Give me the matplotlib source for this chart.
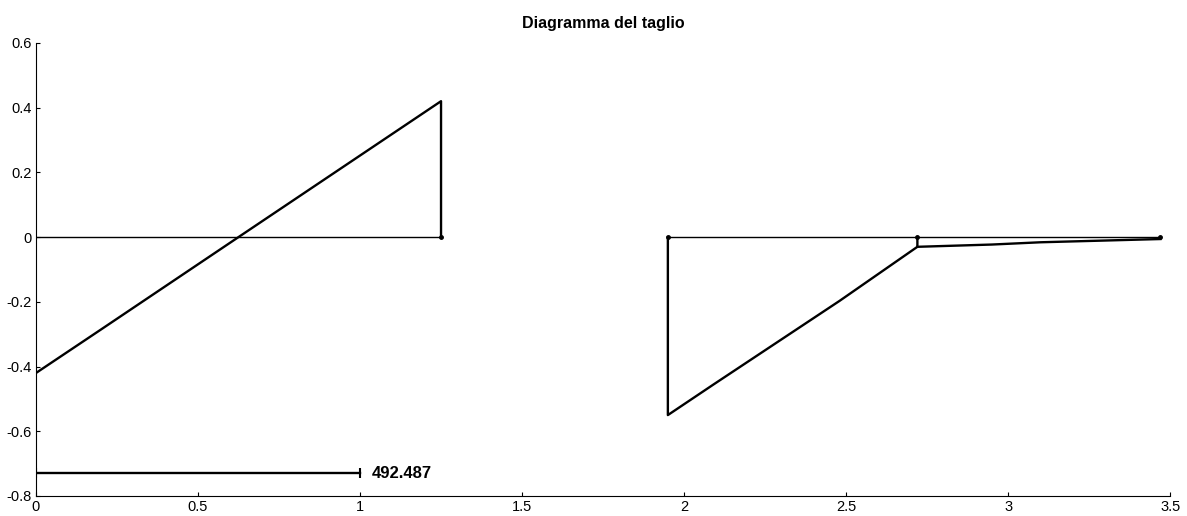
import matplotlib.pyplot as plt

plt.rcParams['font.family'] = ['Liberation Sans', 'DejaVu Sans']

# shear diagram, span 1
span1_x = [0.0, 0.2, 0.625, 1.25]
span1_v = [-0.42, -0.286, 0.0, 0.42]
span1_end = 1.25

# shear diagram, span 2
span2_x = [1.95, 2.09, 2.48, 2.72]
span2_v = [-0.55, -0.456, -0.197, -0.03]

# shear diagram, cantilever tail
span3_x = [2.72, 2.95, 3.1, 3.47]
span3_v = [-0.03, -0.023, -0.016, -0.006]

# scale bar
scale_len = 1.0
scale_y = -0.73
scale_label = '492.487'

xticks = [0, 0.5, 1, 1.5, 2, 2.5, 3, 3.5]
yticks = [-0.8, -0.6, -0.4, -0.2, 0, 0.2, 0.4, 0.6]

fig = plt.figure(figsize=(11.87, 5.16), dpi=100)
ax = fig.add_axes([0.0303, 0.0388, 0.9555, 0.878])

lw = 1.7
# reference axis for each span
ax.plot([span1_x[0], span1_end], [0, 0], color='black', lw=1.0)
ax.plot([span2_x[0], span3_x[-1]], [0, 0], color='black', lw=1.0)

# span 1 outline
ax.plot(span1_x + [span1_end], span1_v + [0], color='black', lw=lw)
ax.plot([span1_end], [0], 'o', color='black', ms=2.5)

# span 2 outline
ax.plot([span2_x[0]] + span2_x + [span2_x[-1]], [0] + span2_v + [0], color='black', lw=lw)
ax.plot([span2_x[0], span2_x[-1]], [0, 0], 'o', color='black', ms=2.5)

# tail
ax.plot(span3_x, span3_v, color='black', lw=lw)
ax.plot([span3_x[-1]], [0], 'o', color='black', ms=2.5)

# scale bar
ax.plot([0, scale_len], [scale_y, scale_y], color='black', lw=lw)
ax.plot([0, scale_len], [scale_y, scale_y], '|', color='black', ms=7, mew=1.5)
ax.text(scale_len + 0.035, scale_y, scale_label, fontsize=12, fontweight='bold',
        va='center', ha='left')

ax.set_xlim(0, 3.5)
ax.set_ylim(-0.8, 0.6)
ax.set_xticks(xticks)
ax.set_xticklabels([f'{t:g}' for t in xticks])
ax.set_yticks(yticks)
ax.set_yticklabels([f'{t:g}' for t in yticks])
ax.tick_params(direction='in', length=3, labelsize=10.5, pad=3)
ax.spines['top'].set_visible(False)
ax.spines['right'].set_visible(False)
ax.set_title('Diagramma del taglio', fontsize=11.5, fontweight='bold', pad=11)

fig.savefig('out.png', dpi=100)
